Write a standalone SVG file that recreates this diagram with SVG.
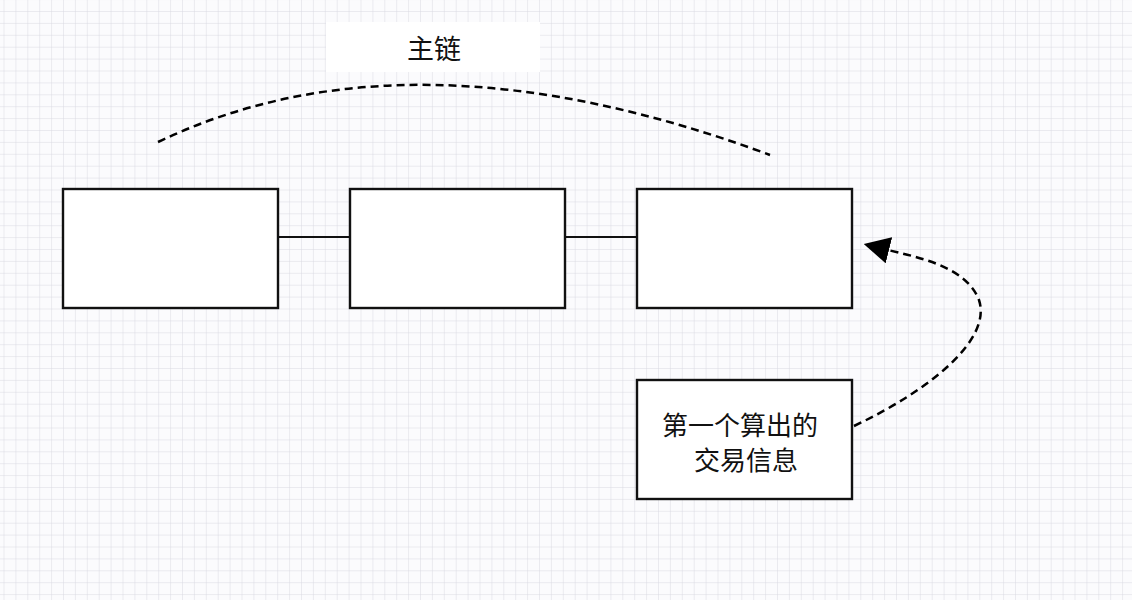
<svg xmlns="http://www.w3.org/2000/svg" width="1132" height="600" viewBox="0 0 1132 600">
  <defs>
    <pattern id="grid" x="3.5" y="11" width="11.9" height="11.9" patternUnits="userSpaceOnUse">
      <path d="M0 0 H11.9 M0 0 V11.9" fill="none" stroke="#d9d9e2" stroke-width="1"/>
    </pattern>
    <marker id="arrow" markerUnits="userSpaceOnUse" markerWidth="26" markerHeight="27" viewBox="0 0 26 27" refX="1" refY="13.5" orient="auto">
      <path d="M0 0 L26 13.5 L0 27 Z" fill="#000"/>
    </marker>
    <style>
      .box { fill: #fff; stroke: #111; stroke-width: 2.4; }
      .link { fill: none; stroke: #111; stroke-width: 2; }
      .dash { fill: none; stroke: #000; stroke-width: 2.5; stroke-dasharray: 8 5; }
      .label { font-family: "Noto Sans CJK SC", "Noto Sans", sans-serif; font-size: 27px; fill: #111; text-anchor: middle; }
      .small { font-size: 26px; }
    </style>
  </defs>
  <rect width="1132" height="600" fill="#fbfbfd"/>
  <rect width="1132" height="600" fill="url(#grid)"/>

  <g id="connectors">
    <line class="link" x1="278" y1="237" x2="350" y2="237"/>
    <line class="link" x1="565" y1="237" x2="637" y2="237"/>
    <path class="dash" d="M158 142 Q410 21.5 770 155"/>
    <path class="dash" d="M854 426 C930 390 992 340 979 300 C966 266 916 257 888 250" marker-end="url(#arrow)"/>
  </g>

  <g id="title">
    <rect x="326" y="22" width="214" height="50" fill="#fff"/>
    <text class="label" x="434" y="59">主链</text>
  </g>

  <g id="block1">
    <rect class="box" x="63" y="189" width="215" height="119"/>
  </g>
  <g id="block2">
    <rect class="box" x="350" y="189" width="215" height="119"/>
  </g>
  <g id="block3">
    <rect class="box" x="637" y="189" width="215" height="119"/>
  </g>
  <g id="tx">
    <rect class="box" x="637" y="380" width="215" height="119"/>
    <text class="label small" x="740" y="435">第一个算出的</text>
    <text class="label small" x="746" y="470">交易信息</text>
  </g>
</svg>
